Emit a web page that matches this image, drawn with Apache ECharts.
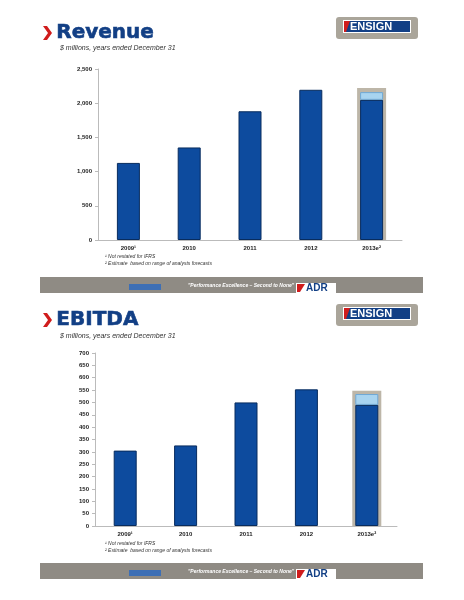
<!DOCTYPE html>
<html><head><meta charset="utf-8">
<script src="https://cdn.jsdelivr.net/npm/echarts@6/dist/echarts.min.js"></script>
<style>html,body{margin:0;padding:0;background:#fff}#c{width:464px;height:600px}</style>
</head><body><div id="c"></div>
<script>
const categories = ['2009¹', '2010', '2011', '2012', '2013e²'];
const revenueActual = [1127, 1353, 1882, 2196, 2049];
const revenueRangeTop = [null, null, null, null, 113];
const revenueBox = [null, null, null, null, 2221];
const ebitdaActual = [305, 326, 500, 553, 490];
const ebitdaRangeTop = [null, null, null, null, 44];
const ebitdaBox = [null, null, null, null, 547];
const revenueTicks = [0, 500, 1000, 1500, 2000, 2500];
const ebitdaTicks = [0, 50, 100, 150, 200, 250, 300, 350, 400, 450, 500, 550, 600, 650, 700];

const dark = '#0d4b9e', light = '#a8d4f0', boxC = '#bdb6a8';
const axisTxt = {fontSize: 6, fontWeight: 'bold', color: '#222', fontFamily: 'Liberation Sans'};
function xA(grid, show) {
  return {type: 'category', gridIndex: grid, data: categories, show: show,
    axisLine: {lineStyle: {color: '#bbb'}}, axisTick: {show: false},
    axisLabel: Object.assign({margin: 5}, axisTxt)};
}
function yA(grid, max, interval) {
  return {type: 'value', gridIndex: grid, min: 0, max: max, interval: interval,
    splitLine: {show: false}, axisLine: {show: true, lineStyle: {color: '#bbb'}},
    axisTick: {show: true, length: 3, lineStyle: {color: '#bbb'}},
    axisLabel: Object.assign({margin: 6, formatter: v => v.toLocaleString('en-US')}, axisTxt)};
}
const barStyle = {color: dark, borderColor: '#082c5e', borderWidth: 1};
function header(y, title, ySub) {
  return [
    {type: 'polygon', shape: {points: [[43, y + 6], [47, y + 6], [52, y + 13], [47, y + 20], [43, y + 20], [48, y + 13]]}, style: {fill: '#d01c1c'}},
    {type: 'text', left: 56, top: y + 2, style: {text: title, fill: '#123f85', font: '900 20px DejaVu Sans', stroke: '#123f85', lineWidth: 0.6}},
    {type: 'text', left: 60, top: ySub, style: {text: '$ millions, years ended December 31', fill: '#333', font: 'italic 7px Liberation Sans'}},
    {type: 'rect', shape: {x: 336, y: y - 3, width: 82, height: 22, r: 3}, style: {fill: '#aaa59a'}},
    {type: 'rect', shape: {x: 343, y: y, width: 68, height: 13}, style: {fill: '#fff'}},
    {type: 'rect', shape: {x: 344, y: y + 1, width: 66, height: 11}, style: {fill: '#123f85'}},
    {type: 'text', left: 350, top: y + 1, style: {text: 'ENSIGN', fill: '#fff', font: 'bold 11px Liberation Sans'}},
    {type: 'polygon', shape: {points: [[344, y + 1], [350, y + 1], [346, y + 12], [344, y + 12]]}, style: {fill: '#d01c1c'}}
  ];
}
function footer(y, yf) {
  return [
    {type: 'text', left: 105, top: y, style: {text: '¹ Not restated for IFRS', fill: '#333', font: 'italic 5px Liberation Sans'}},
    {type: 'text', left: 105, top: y + 7, style: {text: '² Estimate  based on range of analysts forecasts', fill: '#333', font: 'italic 5px Liberation Sans'}},
    {type: 'rect', shape: {x: 40, y: yf, width: 383, height: 16}, style: {fill: '#8f8b84'}},
    {type: 'rect', shape: {x: 129, y: yf + 7, width: 32, height: 6}, style: {fill: '#3d6fb5'}},
    {type: 'text', left: 188, top: yf + 6, style: {text: '"Performance Excellence – Second to None"', fill: '#fff', font: 'italic bold 5px Liberation Sans'}},
    {type: 'rect', shape: {x: 296, y: yf + 6, width: 40, height: 10}, style: {fill: '#fff'}},
    {type: 'text', left: 306, top: yf + 6, style: {text: 'ADR', fill: '#123f85', font: 'bold 10px Liberation Sans'}},
    {type: 'polygon', shape: {points: [[297, yf + 7], [305, yf + 7], [300, yf + 15], [297, yf + 15]]}, style: {fill: '#d01c1c'}}
  ];
}
const chart = echarts.init(document.getElementById('c'));
chart.setOption({
  animation: false,
  grid: [
    {left: 98, right: 62, top: 69, height: 171},
    {left: 95, right: 67, top: 353, height: 173}
  ],
  xAxis: [xA(0, true), xA(0, false), xA(1, true), xA(1, false)],
  yAxis: [yA(0, 2500, 500), yA(1, 700, 50)],
  series: [
    {type: 'bar', xAxisIndex: 1, yAxisIndex: 0, data: revenueBox, barWidth: 29, itemStyle: {color: boxC}, z: 1},
    {type: 'bar', xAxisIndex: 0, yAxisIndex: 0, stack: 'r', data: revenueActual, barWidth: 23, itemStyle: barStyle, z: 2},
    {type: 'bar', xAxisIndex: 0, yAxisIndex: 0, stack: 'r', data: revenueRangeTop, barWidth: 23, itemStyle: {color: light, borderColor: '#6fa9d6', borderWidth: 1}, z: 2},
    {type: 'bar', xAxisIndex: 3, yAxisIndex: 1, data: ebitdaBox, barWidth: 29, itemStyle: {color: boxC}, z: 1},
    {type: 'bar', xAxisIndex: 2, yAxisIndex: 1, stack: 'e', data: ebitdaActual, barWidth: 23, itemStyle: barStyle, z: 2},
    {type: 'bar', xAxisIndex: 2, yAxisIndex: 1, stack: 'e', data: ebitdaRangeTop, barWidth: 23, itemStyle: {color: light, borderColor: '#6fa9d6', borderWidth: 1}, z: 2}
  ],
  graphic: [].concat(header(20, 'Revenue', 45), footer(254, 277), header(307, 'EBITDA', 333), footer(541, 563))
});
</script></body></html>
